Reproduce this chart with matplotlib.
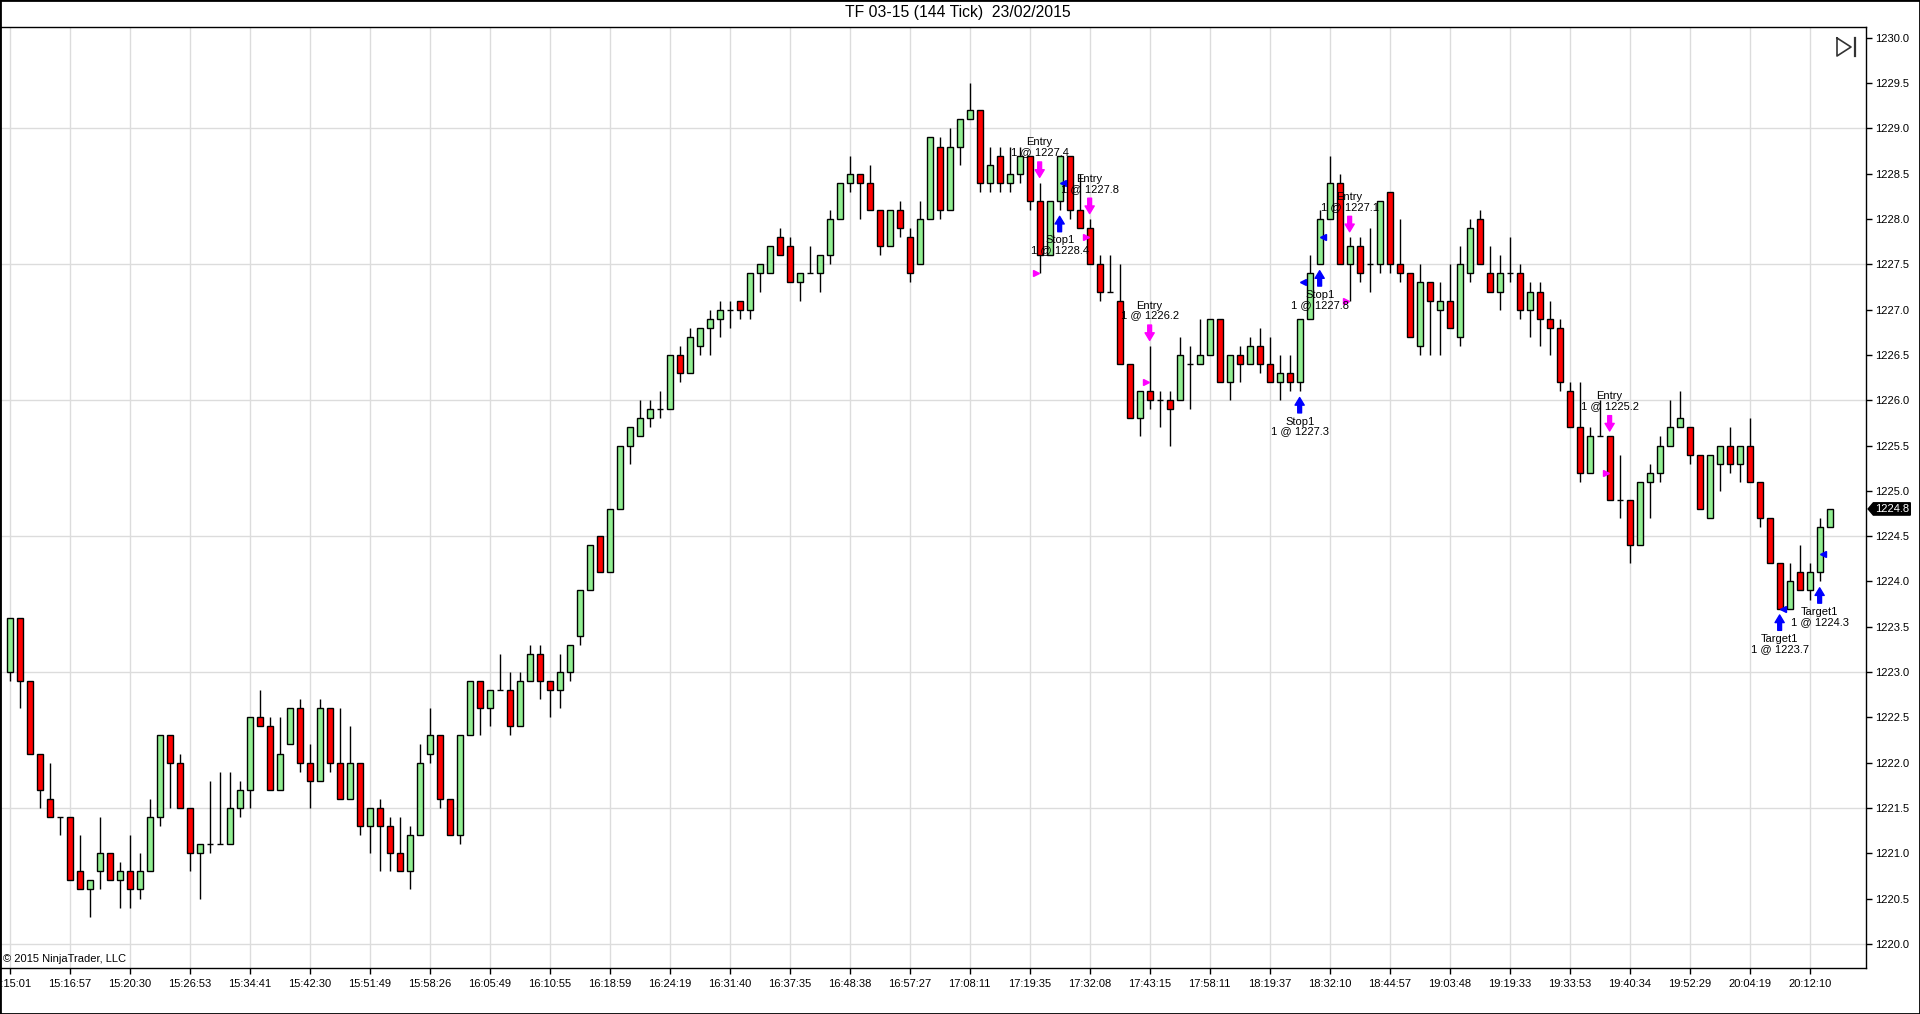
import numpy as np
import matplotlib
matplotlib.use("Agg")
import matplotlib.pyplot as plt
from matplotlib.lines import Line2D
from matplotlib.patches import Polygon, Rectangle
from matplotlib.transforms import blended_transform_factory

plt.rcParams['font.family'] = ['Liberation Sans', 'DejaVu Sans']

# 144 tick bars, TF 03-15
opens = [1223.0, 1223.6, 1222.9, 1222.1, 1221.6, 1221.4, 1221.4, 1220.8, 1220.6, 1220.8,
         1221.0, 1220.7, 1220.8, 1220.6, 1220.8, 1221.4, 1222.3, 1222.0, 1221.5, 1221.0,
         1221.1, 1221.1, 1221.1, 1221.5, 1221.7, 1222.5, 1222.4, 1221.7, 1222.2, 1222.6,
         1222.0, 1221.8, 1222.6, 1222.0, 1221.6, 1222.0, 1221.3, 1221.5, 1221.3, 1221.0,
         1220.8, 1221.2, 1222.1, 1222.3, 1221.6, 1221.2, 1222.3, 1222.9, 1222.6, 1222.8,
         1222.8, 1222.4, 1222.9, 1223.2, 1222.9, 1222.8, 1223.0, 1223.4, 1223.9, 1224.5,
         1224.1, 1224.8, 1225.5, 1225.6, 1225.8, 1225.9, 1225.9, 1226.5, 1226.3, 1226.6,
         1226.8, 1226.9, 1227.0, 1227.1, 1227.0, 1227.4, 1227.4, 1227.8, 1227.7, 1227.3,
         1227.4, 1227.4, 1227.6, 1228.0, 1228.4, 1228.5, 1228.4, 1228.1, 1227.7, 1228.1,
         1227.8, 1227.5, 1228.0, 1228.8, 1228.1, 1228.8, 1229.1, 1229.2, 1228.4, 1228.7,
         1228.4, 1228.5, 1228.7, 1228.2, 1227.6, 1228.2, 1228.7, 1228.1, 1227.9, 1227.5,
         1227.2, 1227.1, 1226.4, 1225.8, 1226.1, 1226.0, 1226.0, 1226.0, 1226.4, 1226.4,
         1226.5, 1226.9, 1226.2, 1226.5, 1226.4, 1226.6, 1226.4, 1226.2, 1226.3, 1226.2,
         1226.9, 1227.5, 1228.0, 1228.4, 1227.5, 1227.7, 1227.5, 1227.5, 1228.3, 1227.5,
         1227.4, 1226.6, 1227.3, 1227.0, 1227.1, 1226.7, 1227.4, 1228.0, 1227.4, 1227.2,
         1227.4, 1227.4, 1227.0, 1227.2, 1226.9, 1226.8, 1226.1, 1225.7, 1225.2, 1225.6,
         1225.6, 1224.9, 1224.9, 1224.4, 1225.1, 1225.2, 1225.5, 1225.7, 1225.7, 1225.4,
         1224.7, 1225.3, 1225.5, 1225.3, 1225.5, 1225.1, 1224.7, 1224.2, 1223.7, 1224.1,
         1223.9, 1224.1, 1224.6]
highs = [1223.6, 1223.6, 1222.9, 1222.1, 1222.0, 1221.4, 1221.4, 1221.2, 1220.7, 1221.4,
         1221.0, 1220.9, 1221.2, 1221.0, 1221.6, 1222.3, 1222.3, 1222.1, 1221.5, 1221.1,
         1221.8, 1221.9, 1221.9, 1221.8, 1222.5, 1222.8, 1222.5, 1222.5, 1222.6, 1222.7,
         1222.2, 1222.7, 1222.6, 1222.6, 1222.4, 1222.0, 1221.5, 1221.6, 1221.4, 1221.4,
         1221.3, 1222.2, 1222.6, 1222.3, 1221.6, 1222.3, 1222.9, 1222.9, 1222.8, 1223.2,
         1223.0, 1223.0, 1223.3, 1223.3, 1222.9, 1223.2, 1223.3, 1223.9, 1224.4, 1224.5,
         1224.8, 1225.5, 1225.7, 1226.0, 1226.0, 1226.1, 1226.5, 1226.6, 1226.8, 1226.8,
         1227.0, 1227.1, 1227.1, 1227.1, 1227.4, 1227.5, 1227.7, 1227.9, 1227.8, 1227.4,
         1227.7, 1227.6, 1228.1, 1228.4, 1228.7, 1228.5, 1228.6, 1228.1, 1228.1, 1228.2,
         1227.9, 1228.2, 1228.9, 1228.9, 1229.0, 1229.1, 1229.5, 1229.2, 1228.8, 1228.8,
         1228.8, 1228.8, 1228.7, 1228.4, 1228.2, 1228.7, 1228.7, 1228.5, 1228.0, 1227.6,
         1227.6, 1227.5, 1226.4, 1226.1, 1226.6, 1226.1, 1226.1, 1226.7, 1226.6, 1226.9,
         1226.9, 1226.9, 1226.5, 1226.6, 1226.7, 1226.8, 1226.7, 1226.5, 1226.5, 1226.9,
         1227.6, 1228.1, 1228.7, 1228.5, 1227.8, 1227.8, 1227.9, 1228.2, 1228.3, 1228.0,
         1227.4, 1227.5, 1227.3, 1227.3, 1227.5, 1227.7, 1228.0, 1228.1, 1227.7, 1227.6,
         1227.8, 1227.5, 1227.3, 1227.3, 1227.1, 1226.9, 1226.2, 1226.2, 1225.7, 1226.0,
         1225.6, 1225.4, 1224.9, 1225.1, 1225.3, 1225.6, 1226.0, 1226.1, 1225.7, 1225.4,
         1225.4, 1225.5, 1225.7, 1225.5, 1225.8, 1225.1, 1224.7, 1224.2, 1224.2, 1224.4,
         1224.2, 1224.7, 1224.8]
lows = [1222.9, 1222.6, 1222.1, 1221.5, 1221.4, 1221.2, 1220.7, 1220.6, 1220.3, 1220.6,
        1220.7, 1220.4, 1220.4, 1220.5, 1220.8, 1221.3, 1221.5, 1221.5, 1220.8, 1220.5,
        1221.0, 1221.1, 1221.1, 1221.4, 1221.5, 1222.4, 1221.7, 1221.7, 1222.2, 1221.9,
        1221.5, 1221.8, 1221.9, 1221.6, 1221.6, 1221.2, 1221.0, 1220.8, 1220.8, 1220.8,
        1220.6, 1221.2, 1222.0, 1221.5, 1221.2, 1221.1, 1222.3, 1222.3, 1222.4, 1222.8,
        1222.3, 1222.4, 1222.9, 1222.7, 1222.5, 1222.6, 1222.9, 1223.3, 1223.9, 1224.1,
        1224.1, 1224.8, 1225.3, 1225.6, 1225.7, 1225.8, 1225.9, 1226.2, 1226.3, 1226.5,
        1226.5, 1226.7, 1226.8, 1226.9, 1226.9, 1227.2, 1227.4, 1227.6, 1227.3, 1227.1,
        1227.4, 1227.2, 1227.5, 1228.0, 1228.3, 1228.0, 1228.1, 1227.6, 1227.7, 1227.8,
        1227.3, 1227.5, 1228.0, 1228.0, 1228.1, 1228.6, 1229.1, 1228.3, 1228.3, 1228.3,
        1228.3, 1228.4, 1228.1, 1227.4, 1227.6, 1228.1, 1228.0, 1227.9, 1227.5, 1227.1,
        1227.2, 1226.4, 1225.8, 1225.6, 1225.9, 1225.7, 1225.5, 1226.0, 1225.9, 1226.4,
        1226.5, 1226.2, 1226.0, 1226.2, 1226.4, 1226.3, 1226.2, 1226.0, 1226.1, 1226.1,
        1226.9, 1227.5, 1228.0, 1227.5, 1227.1, 1227.3, 1227.2, 1227.4, 1227.4, 1227.3,
        1226.7, 1226.5, 1226.5, 1226.5, 1226.8, 1226.6, 1227.3, 1227.5, 1227.2, 1227.0,
        1227.3, 1226.9, 1226.7, 1226.6, 1226.5, 1226.1, 1225.7, 1225.1, 1225.2, 1225.6,
        1224.9, 1224.7, 1224.2, 1224.4, 1224.7, 1225.1, 1225.5, 1225.7, 1225.3, 1224.8,
        1224.7, 1225.0, 1225.2, 1225.1, 1225.1, 1224.6, 1224.2, 1223.7, 1223.7, 1223.9,
        1223.8, 1224.0, 1224.6]
closes = [1223.6, 1222.9, 1222.1, 1221.7, 1221.4, 1221.4, 1220.7, 1220.6, 1220.7, 1221.0,
          1220.7, 1220.8, 1220.6, 1220.8, 1221.4, 1222.3, 1222.0, 1221.5, 1221.0, 1221.1,
          1221.1, 1221.1, 1221.5, 1221.7, 1222.5, 1222.4, 1221.7, 1222.1, 1222.6, 1222.0,
          1221.8, 1222.6, 1222.0, 1221.6, 1222.0, 1221.3, 1221.5, 1221.3, 1221.0, 1220.8,
          1221.2, 1222.0, 1222.3, 1221.6, 1221.2, 1222.3, 1222.9, 1222.6, 1222.8, 1222.8,
          1222.4, 1222.9, 1223.2, 1222.9, 1222.8, 1223.0, 1223.3, 1223.9, 1224.4, 1224.1,
          1224.8, 1225.5, 1225.7, 1225.8, 1225.9, 1225.9, 1226.5, 1226.3, 1226.7, 1226.8,
          1226.9, 1227.0, 1227.0, 1227.0, 1227.4, 1227.5, 1227.7, 1227.6, 1227.3, 1227.4,
          1227.4, 1227.6, 1228.0, 1228.4, 1228.5, 1228.4, 1228.1, 1227.7, 1228.1, 1227.9,
          1227.4, 1228.0, 1228.9, 1228.1, 1228.8, 1229.1, 1229.2, 1228.4, 1228.6, 1228.4,
          1228.5, 1228.7, 1228.2, 1227.6, 1228.2, 1228.7, 1228.1, 1227.9, 1227.5, 1227.2,
          1227.2, 1226.4, 1225.8, 1226.1, 1226.0, 1226.0, 1225.9, 1226.5, 1226.4, 1226.5,
          1226.9, 1226.2, 1226.5, 1226.4, 1226.6, 1226.4, 1226.2, 1226.3, 1226.2, 1226.9,
          1227.4, 1228.0, 1228.4, 1227.5, 1227.7, 1227.4, 1227.5, 1228.2, 1227.5, 1227.4,
          1226.7, 1227.3, 1227.1, 1227.1, 1226.8, 1227.5, 1227.9, 1227.5, 1227.2, 1227.4,
          1227.4, 1227.0, 1227.2, 1226.9, 1226.8, 1226.2, 1225.7, 1225.2, 1225.6, 1225.6,
          1224.9, 1224.9, 1224.4, 1225.1, 1225.2, 1225.5, 1225.7, 1225.8, 1225.4, 1224.8,
          1225.4, 1225.5, 1225.3, 1225.5, 1225.1, 1224.7, 1224.2, 1223.7, 1224.0, 1223.9,
          1224.1, 1224.6, 1224.8]

time_labels = ['15:15:01', '15:16:57', '15:20:30', '15:26:53', '15:34:41', '15:42:30',
               '15:51:49', '15:58:26', '16:05:49', '16:10:55', '16:18:59', '16:24:19',
               '16:31:40', '16:37:35', '16:48:38', '16:57:27', '17:08:11', '17:19:35',
               '17:32:08', '17:43:15', '17:58:11', '18:19:37', '18:32:10', '18:44:57',
               '19:03:48', '19:19:33', '19:33:53', '19:40:34', '19:52:29', '20:04:19',
               '20:12:10']
label_every = 6

# executions: bar index, fill price, signal name
trade_bars = [103, 105, 108, 114, 129, 131, 134, 160, 177, 181]
trade_prices = [1227.4, 1228.4, 1227.8, 1226.2, 1227.3, 1227.8, 1227.1, 1225.2, 1223.7, 1224.3]
trade_names = ['Entry', 'Stop1', 'Entry', 'Entry', 'Stop1', 'Stop1', 'Entry', 'Entry',
               'Target1', 'Target1']

o = np.array(opens)
h = np.array(highs)
l = np.array(lows)
c = np.array(closes)
x = np.arange(len(o))

fig = plt.figure(figsize=(19.2, 10.14), dpi=100)
ax = fig.add_axes([0.0, 0.0451, 0.9721, 0.9283])

grid_col = '#dcdcdc'
for gx in x[::label_every]:
    ax.axvline(gx, color=grid_col, lw=1, zorder=0)
for gy in np.arange(1220.0, 1230.01, 1.5):
    ax.axhline(gy, color=grid_col, lw=1, zorder=0)

# wicks
ax.vlines(x, l, h, color='black', lw=1, zorder=2)

# bodies
up = c > o
dn = c < o
flat = c == o
w = 0.62
ax.bar(x[up], (c - o)[up], bottom=o[up], width=w, color='#90ee90',
       edgecolor='black', linewidth=1, zorder=3)
ax.bar(x[dn], (o - c)[dn], bottom=c[dn], width=w, color='#ff0000',
       edgecolor='black', linewidth=1, zorder=3)
ax.hlines(c[flat], x[flat] - w / 2, x[flat] + w / 2, color='black', lw=1, zorder=3)

# trade markers
for b, p, name in zip(trade_bars, trade_prices, trade_names):
    txt = name + '\n1 @ ' + '%.1f' % p
    if name == 'Entry':
        col = '#ff00ff'
        top = h[b]
        ax.annotate('', xy=(b, top + 0.06), xytext=(b, top + 0.23),
                    arrowprops=dict(arrowstyle='simple,head_length=0.5,head_width=0.6,tail_width=0.25',
                                    color=col, mutation_scale=11, shrinkA=0, shrinkB=0),
                    zorder=5)
        ax.plot(b - 0.33, p, marker='>', color=col, ms=5, mec=col, zorder=5)
        ax.text(b, top + 0.28, txt, ha='center', va='bottom', fontsize=8,
                linespacing=1.0, zorder=6)
    else:
        col = '#0000ff'
        bot = l[b]
        ax.annotate('', xy=(b, bot - 0.07), xytext=(b, bot - 0.24),
                    arrowprops=dict(arrowstyle='simple,head_length=0.5,head_width=0.6,tail_width=0.25',
                                    color=col, mutation_scale=11, shrinkA=0, shrinkB=0),
                    zorder=5)
        ax.plot(b + 0.33, p, marker='<', color=col, ms=5, mec=col, zorder=5)
        ax.text(b, bot - 0.28, txt, ha='center', va='top', fontsize=8,
                linespacing=1.0, zorder=6)

ax.set_xlim(-0.97, 185.68)
ax.set_ylim(1219.73, 1230.12)

ax.set_xticks(x[::label_every])
ax.set_xticklabels(time_labels, fontsize=8)
ax.set_yticks(np.arange(1220.0, 1230.01, 0.5))
ax.set_yticklabels(['%.1f' % v for v in np.arange(1220.0, 1230.01, 0.5)], fontsize=8)
ax.yaxis.tick_right()
ax.tick_params(axis='x', direction='out', length=4, width=1, pad=4)
ax.tick_params(axis='y', direction='out', length=4, width=1, pad=2)
for s in ax.spines.values():
    s.set_color('black')
    s.set_linewidth(1)

# last price marker on the axis
last = c[-1]
tr = blended_transform_factory(ax.transAxes, ax.transData)
box = Polygon([[1.0009, last], [1.0037, last + 0.068], [1.0235, last + 0.068],
               [1.0235, last - 0.068], [1.0037, last - 0.068]],
              closed=True, transform=tr, facecolor='black', edgecolor='black',
              clip_on=False, zorder=10)
ax.add_patch(box)
ax.text(1.0137, last, '%.1f' % last, transform=tr, ha='center', va='center',
        color='white', fontsize=8, zorder=11, clip_on=False)

ax.text(0.0016, 0.0095, '\u00a9 2015 NinjaTrader, LLC', transform=ax.transAxes,
        ha='left', va='center', fontsize=8)

fig.text(0.499, 0.988, 'TF 03-15 (144 Tick)  23/02/2015', ha='center', va='center',
         fontsize=11.3)

# "go to last bar" icon, top right
W, H = 1920.0, 1014.0
fig.add_artist(Line2D([1837 / W, 1837 / W, 1851 / W, 1837 / W],
                      [1 - 38 / H, 1 - 56 / H, 1 - 47 / H, 1 - 38 / H],
                      color='#333333', lw=1.2))
fig.add_artist(Line2D([1855 / W, 1855 / W], [1 - 38 / H, 1 - 56 / H],
                      color='#333333', lw=1.6))

fig.add_artist(Rectangle((0, 0), 1, 1, transform=fig.transFigure, fill=False,
                         edgecolor='black', lw=2))

fig.savefig('out.png', dpi=100)
